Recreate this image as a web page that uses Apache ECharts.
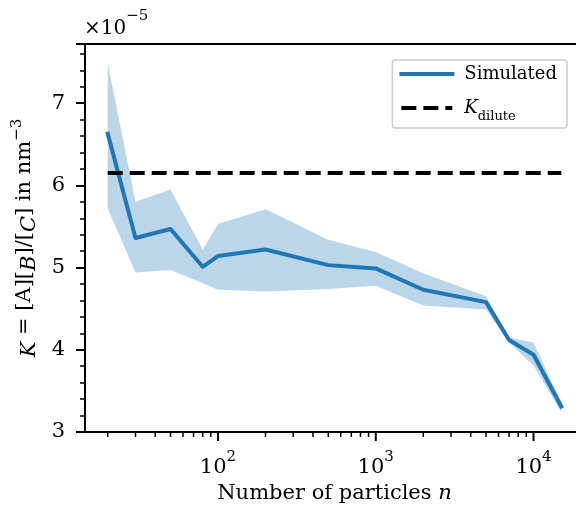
<!DOCTYPE html>
<html>
<head>
<meta charset="utf-8">
<script src="https://cdn.jsdelivr.net/npm/echarts@6/dist/echarts.min.js"></script>
<style>
  html, body { margin: 0; padding: 0; background: #fff; }
  #chart { width: 576px; height: 511px; }
</style>
</head>
<body>
<div id="chart"></div>
<script>
// Equilibrium constant vs. number of simulated particles (values in units of 1e-5 nm^-3)
const particles = [20, 30, 50, 80, 100, 200, 500, 1000, 2000, 5000, 7000, 10000, 15000];
const kMean  = [6.63, 5.36, 5.47, 5.01, 5.14, 5.22, 5.03, 4.99, 4.73, 4.58, 4.12, 3.94, 3.31];
const kUpper = [7.49, 5.80, 5.95, 5.22, 5.53, 5.71, 5.34, 5.19, 4.93, 4.65, 4.15, 4.09, 3.36];
const kLower = [5.72, 4.94, 4.97, 4.81, 4.73, 4.71, 4.74, 4.78, 4.54, 4.49, 4.09, 3.81, 3.24];
const kDilute = 6.15;

// Axis ticks
const xMajorTicks = [100, 1000, 10000];
const xMinorTicks = [20, 30, 40, 50, 60, 70, 80, 90,
                     200, 300, 400, 500, 600, 700, 800, 900,
                     2000, 3000, 4000, 5000, 6000, 7000, 8000, 9000];
const yTicks = [3, 4, 5, 6, 7];

const FONT = 'DejaVu Serif';
const BLUE = '#1f77b4';
const Y_MIN = 3, Y_MAX = 7.72;
const X_MIN = Math.pow(10, 1.157), X_MAX = Math.pow(10, 4.32);

const chart = echarts.init(document.getElementById('chart'), null, { renderer: 'canvas' });

const tickData = xMajorTicks.map(v => [v, 1]).concat(xMinorTicks.map(v => [v, 0]));

const option = {
  backgroundColor: '#fff',
  animation: false,
  textStyle: { fontFamily: FONT, color: '#000' },
  grid: {
    left: 85, right: -8, top: 44, bottom: 79,
    show: true, borderColor: '#000', borderWidth: 2,
    containLabel: false, outerBoundsMode: 'none'
  },
  graphic: [{
    type: 'text',
    left: 84, top: 9,
    style: {
      text: '{b|×10}{s|−5}',
      rich: {
        b: { fontFamily: FONT, fontSize: 20, fill: '#000', lineHeight: 30, verticalAlign: 'bottom' },
        s: { fontFamily: FONT, fontSize: 15, fill: '#000', lineHeight: 30, verticalAlign: 'top' }
      }
    }
  }],
  legend: {
    data: ['Simulated', 'Kdilute'],
    orient: 'vertical',
    right: 9, top: 60,
    padding: [3, 10, 5, 7],
    itemGap: 12,
    itemWidth: 51, itemHeight: 14,
    backgroundColor: 'rgba(255,255,255,0.8)',
    borderColor: '#cccccc', borderWidth: 1.5, borderRadius: 3,
    itemStyle: { opacity: 0, borderWidth: 0 },
    lineStyle: { width: 4 },
    textStyle: {
      fontFamily: FONT, fontSize: 18, color: '#000', lineHeight: 22,
      padding: [0, 0, 0, 7],
      rich: {
        k: { fontFamily: FONT, fontSize: 18, fontStyle: 'italic', lineHeight: 22, verticalAlign: 'middle' },
        d: { fontFamily: FONT, fontSize: 13, lineHeight: 22, verticalAlign: 'bottom', padding: [0, 0, -4, 0] }
      }
    },
    formatter: name => name === 'Kdilute' ? '{k|K}{d|dilute}' : name
  },
  xAxis: {
    type: 'log', logBase: 10,
    min: X_MIN, max: X_MAX,
    name: 'Number of particles {i|n}',
    nameLocation: 'middle', nameGap: 47,
    nameTextStyle: {
      fontFamily: FONT, fontSize: 21, color: '#000',
      rich: { i: { fontFamily: FONT, fontSize: 21, fontStyle: 'italic' } }
    },
    axisLine: { show: true, lineStyle: { color: '#000', width: 2 } },
    axisTick: { show: false },
    splitLine: { show: false },
    axisLabel: {
      margin: 18, color: '#000', showMinLabel: false, showMaxLabel: false,
      formatter: v => {
        const e = Math.round(Math.log10(v));
        if (Math.abs(Math.log10(v) - e) > 1e-6) return '';
        return '{b|10}{s|' + e + '}';
      },
      rich: {
        b: { fontFamily: FONT, fontSize: 21, lineHeight: 28, verticalAlign: 'bottom' },
        s: { fontFamily: FONT, fontSize: 15, lineHeight: 28, verticalAlign: 'top' }
      }
    }
  },
  yAxis: {
    type: 'value',
    min: Y_MIN, max: Y_MAX, interval: 1,
    name: '{i|K} = [A][{i|B}]/[{i|C}] in nm{s|−3}',
    nameLocation: 'middle', nameGap: 45, nameRotate: 90,
    nameTextStyle: {
      fontFamily: FONT, fontSize: 21, color: '#000',
      rich: {
        i: { fontFamily: FONT, fontSize: 21, fontStyle: 'italic', lineHeight: 30, verticalAlign: 'bottom' },
        s: { fontFamily: FONT, fontSize: 15, lineHeight: 30, verticalAlign: 'top' }
      }
    },
    axisLine: { show: true, lineStyle: { color: '#000', width: 2 } },
    axisTick: { show: true, length: 9, lineStyle: { color: '#000', width: 2 } },
    minorTick: { show: true, splitNumber: 5, length: 5, lineStyle: { color: '#000', width: 1.5 } },
    splitLine: { show: false },
    axisLabel: {
      margin: 20, fontFamily: FONT, fontSize: 21, color: '#000',
      showMaxLabel: false,
      formatter: v => (yTicks.indexOf(v) >= 0 ? String(v) : '')
    }
  },
  series: [
    {
      // shaded spread between lower and upper estimate
      type: 'custom',
      name: 'band',
      silent: true,
      z: 1,
      clip: false,
      data: [[particles[0], kMean[0]]],
      encode: { x: 0, y: 1 },
      renderItem: (params, api) => {
        const pts = [];
        for (let i = 0; i < particles.length; i++) pts.push(api.coord([particles[i], kUpper[i]]));
        for (let i = particles.length - 1; i >= 0; i--) pts.push(api.coord([particles[i], kLower[i]]));
        return { type: 'polygon', shape: { points: pts }, style: { fill: 'rgba(31,119,180,0.3)' } };
      }
    },
    {
      type: 'line',
      name: 'Simulated',
      z: 3,
      symbol: 'none',
      data: particles.map((n, i) => [n, kMean[i]]),
      itemStyle: { color: BLUE },
      lineStyle: { color: BLUE, width: 4, join: 'round', cap: 'square' }
    },
    {
      type: 'line',
      name: 'Kdilute',
      z: 4,
      symbol: 'none',
      data: [[particles[0], kDilute], [particles[particles.length - 1], kDilute]],
      itemStyle: { color: '#000' },
      lineStyle: { color: '#000', width: 4, type: [15, 7] }
    },
    {
      // log-axis major/minor ticks below the x axis
      type: 'custom',
      name: 'xticks',
      silent: true,
      clip: false,
      z: 5,
      data: tickData,
      encode: { x: 0 },
      renderItem: (params, api) => {
        const v = api.value(0);
        const major = api.value(1) === 1;
        const p = api.coord([v, Y_MIN]);
        return {
          type: 'line',
          shape: { x1: p[0], y1: p[1], x2: p[0], y2: p[1] + (major ? 9 : 5) },
          style: { stroke: '#000', lineWidth: major ? 2 : 1.5 }
        };
      }
    }
  ]
};

chart.setOption(option);
</script>
</body>
</html>
